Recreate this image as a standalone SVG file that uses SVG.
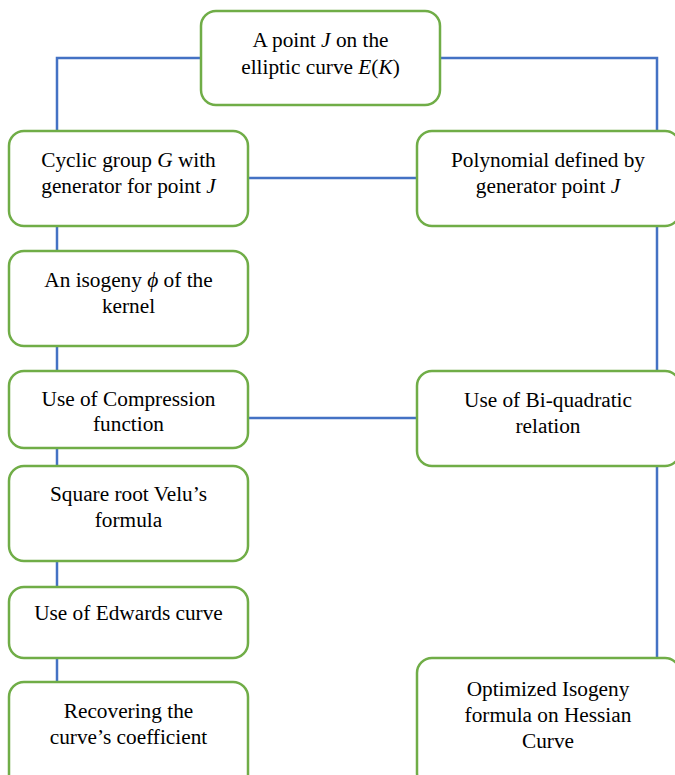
<svg xmlns="http://www.w3.org/2000/svg" width="675" height="775" viewBox="0 0 675 775">
<style>
.box{fill:#fff;stroke:#70AD47;stroke-width:2.5}
.ln{fill:none;stroke:#4472C4;stroke-width:2.5}
text{font-family:"Liberation Serif","Times New Roman",serif;font-size:21.3px;fill:#000;text-anchor:middle}
.m{font-style:italic}
</style>
<rect width="675" height="775" fill="#fff"/>
<g id="connectors">
<path class="ln" d="M201,58 H57 V131"/>
<path class="ln" d="M440,58 H657 V131"/>
<path class="ln" d="M248,178 H417"/>
<path class="ln" d="M57,226 V251"/>
<path class="ln" d="M57,346 V371"/>
<path class="ln" d="M248,418 H417"/>
<path class="ln" d="M657,226 V371"/>
<path class="ln" d="M57,448 V466"/>
<path class="ln" d="M57,561 V587"/>
<path class="ln" d="M57,658 V682"/>
<path class="ln" d="M657,466 V658"/>
</g>
<g id="n-point">
<rect class="box" x="201" y="11" width="239" height="94" rx="15"/>
<text x="320.5" y="47">A point <tspan class="m">J</tspan> on the</text>
<text x="320.5" y="74">elliptic curve <tspan class="m">E</tspan>(<tspan class="m">K</tspan>)</text>
</g>
<g id="n-cyclic">
<rect class="box" x="9" y="131" width="239" height="95" rx="15"/>
<text x="128.5" y="167">Cyclic group <tspan class="m">G</tspan> with</text>
<text x="128.5" y="193">generator for point <tspan class="m">J</tspan></text>
</g>
<g id="n-poly">
<rect class="box" x="417" y="131" width="263" height="95" rx="15"/>
<text x="548" y="167">Polynomial defined by</text>
<text x="548" y="193">generator point <tspan class="m">J</tspan></text>
</g>
<g id="n-isogeny">
<rect class="box" x="9" y="251" width="239" height="95" rx="15"/>
<text x="128.5" y="287">An isogeny <tspan class="m">ϕ</tspan> of the</text>
<text x="128.5" y="313">kernel</text>
</g>
<g id="n-compression">
<rect class="box" x="9" y="371" width="239" height="77" rx="15"/>
<text x="128.5" y="406">Use of Compression</text>
<text x="128.5" y="431">function</text>
</g>
<g id="n-biquad">
<rect class="box" x="417" y="371" width="263" height="95" rx="15"/>
<text x="548" y="407">Use of Bi-quadratic</text>
<text x="548" y="433">relation</text>
</g>
<g id="n-sqrt">
<rect class="box" x="9" y="466" width="239" height="95" rx="15"/>
<text x="128.5" y="501">Square root Velu’s</text>
<text x="128.5" y="527">formula</text>
</g>
<g id="n-edwards">
<rect class="box" x="9" y="587" width="239" height="71" rx="15"/>
<text x="128.5" y="620">Use of Edwards curve</text>
</g>
<g id="n-recover">
<rect class="box" x="9" y="682" width="239" height="110" rx="15"/>
<text x="128.5" y="718">Recovering the</text>
<text x="128.5" y="744">curve’s coefficient</text>
</g>
<g id="n-optimized">
<rect class="box" x="417" y="658" width="263" height="130" rx="15"/>
<text x="548" y="696">Optimized Isogeny</text>
<text x="548" y="722">formula on Hessian</text>
<text x="548" y="748">Curve</text>
</g>
</svg>
